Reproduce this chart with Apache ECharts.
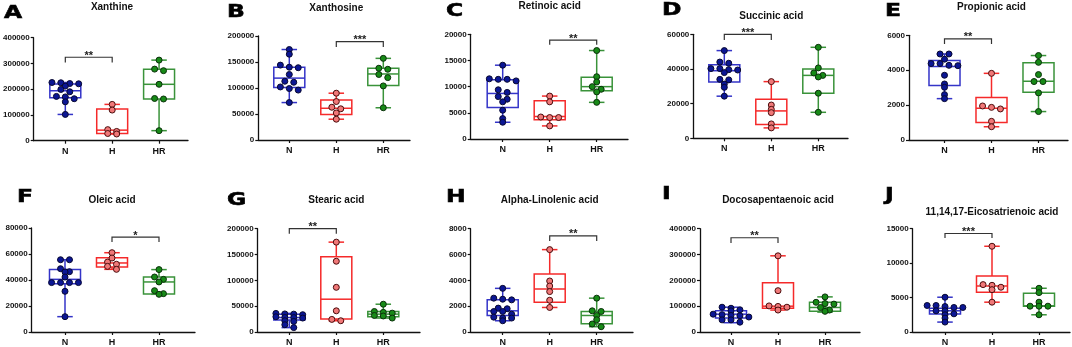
<!DOCTYPE html>
<html>
<head>
<meta charset="utf-8">
<script src="https://cdn.jsdelivr.net/npm/echarts@6/dist/echarts.min.js"></script>
<style>
	html, body { margin: 0; padding: 0; background: #fff; }
	#main { width: 1072px; height: 347px; }
</style>
</head>
<body>
<div id="main"></div>
<script>
var groups = ['N', 'H', 'HR'];
var letters = ['A', 'B', 'C', 'D', 'E', 'F', 'G', 'H', 'I', 'J'];
var titles = ['Xanthine', 'Xanthosine', 'Retinoic acid', 'Succinic acid', 'Propionic acid',
	'Oleic acid', 'Stearic acid', 'Alpha-Linolenic acid', 'Docosapentaenoic acid', '11,14,17-Eicosatrienoic acid'];
var yMax = [400000, 200000, 20000, 60000, 6000, 80000, 200000, 8000, 400000, 15000];
var yStep = [100000, 50000, 5000, 20000, 2000, 20000, 50000, 2000, 100000, 5000];

// box stats per group N / H / HR : [min, Q1, median, Q3, max]
var xanthineBox = [[102000, 167000, 194000, 220000, 226000], [26000, 28000, 41000, 123000, 141000], [39000, 162000, 219000, 277000, 313000]];
var xanthosineBox = [[72000, 101000, 119000, 140000, 174000], [40000, 49000, 61000, 77000, 90000], [62000, 105000, 127000, 138000, 157000]];
var retinoicBox = [[3200, 6000, 8700, 11300, 14100], [2500, 3700, 4300, 7300, 8200], [7000, 9200, 10000, 11800, 16900]];
var succinicBox = [[24300, 32500, 39000, 42500, 50600], [6000, 7900, 15800, 22500, 32700], [15000, 26000, 36300, 40000, 52500]];
var propionicBox = [[2370, 3120, 4210, 4550, 4930], [760, 1000, 1820, 2430, 3820], [1630, 2730, 3370, 4420, 4840]];
var oleicBox = [[11800, 37200, 40500, 48000, 55600], [48200, 50000, 53100, 57200, 61000], [29000, 29200, 38500, 42300, 48000]];
var stearicBox = [[8500, 23000, 28000, 34600, 36000], [21800, 25000, 63500, 145500, 174000], [27000, 29500, 34600, 39700, 53800]];
var linolenicBox = [[870, 1280, 1640, 2490, 3380], [1900, 2310, 3330, 4490, 6380], [410, 640, 1280, 1590, 2620]];
var docosaBox = [[36000, 54000, 69000, 82000, 96000], [85000, 92000, 100000, 191000, 295000], [77000, 80000, 95000, 115000, 136000]];
var eicosaBox = [[1440, 2600, 3080, 3460, 5050], [4330, 5770, 6680, 8130, 12450], [2500, 3750, 3800, 5620, 6350]];

// individual samples per group N / H / HR
var xanthinePts = [
	[226000, 225000, 222000, 221000, 212000, 199000, 190000, 172000, 170000, 163000, 151000, 102000],
	[141000, 119000, 43000, 36000, 28000, 26000],
	[313000, 278000, 272000, 219000, 164000, 162000, 39000]];
var xanthosinePts = [
	[174000, 165000, 144000, 140000, 139000, 126000, 113000, 111000, 102000, 99000, 96000, 72000],
	[90000, 74000, 63000, 60000, 52000, 40000],
	[157000, 138000, 136000, 126000, 120000, 104000, 62000]];
var retinoicPts = [
	[14100, 11500, 11400, 11400, 11100, 9400, 8900, 8100, 7600, 7100, 5500, 3900, 3200],
	[8200, 7100, 4200, 4100, 4100, 2500],
	[16900, 11900, 10900, 10000, 9500, 9000, 7000]];
var succinicPts = [
	[50600, 44000, 43300, 40200, 40200, 39600, 39400, 37900, 34000, 33700, 31300, 29400, 24300],
	[32700, 19200, 16700, 14800, 8300, 6000],
	[52500, 40600, 37700, 36300, 35400, 26000, 15000]];
var propionicPts = [
	[4930, 4930, 4630, 4380, 4380, 4280, 4260, 3710, 3210, 3020, 2600, 2370],
	[3820, 1950, 1870, 1780, 1070, 760],
	[4840, 4450, 3750, 3350, 3350, 2700, 1630]];
var oleicPts = [
	[55600, 55600, 48700, 46400, 46200, 42300, 38000, 38000, 38000, 38000, 31300, 11800],
	[61000, 56900, 53800, 52100, 50500, 48200],
	[48000, 42300, 40500, 38500, 31800, 29500, 29000]];
var stearicPts = [
	[36000, 35000, 34600, 33500, 29500, 28200, 28000, 27000, 21800, 20500, 14100, 8500],
	[174000, 137000, 86500, 41000, 24400, 21800],
	[53800, 39700, 38000, 36500, 32000, 31000, 27000]];
var linolenicPts = [
	[3380, 2620, 2540, 2490, 1850, 1800, 1590, 1590, 1380, 1150, 1080, 1080, 870],
	[6380, 3950, 3560, 3130, 2460, 1900],
	[2620, 1640, 1590, 1280, 950, 620, 410]];
var docosaPts = [
	[96000, 92000, 86000, 82000, 69000, 67000, 64000, 63000, 58000, 47000, 47000, 38000],
	[295000, 160000, 101000, 99000, 96000, 85000],
	[136000, 115000, 110000, 108000, 95000, 85000, 80000]];
var eicosaPts = [
	[5050, 3850, 3850, 3700, 3560, 3560, 3080, 3080, 2640, 2500, 2020, 1440],
	[12450, 6880, 6780, 6500, 6150, 4330],
	[6350, 5720, 4330, 3750, 3750, 3750, 2500]];

// significance brackets: compared groups, bar level, leg end, stars
var sigPairs = [[1, 2], [2, 3], [2, 3], [1, 2], [1, 2], [2, 3], [1, 2], [2, 3], [1, 2], [1, 2]];
var sigTop = [324000, 189000, 18900, 60000, 5790, 73000, 200000, 7440, 365000, 14300];
var sigLeg = [304000, 179000, 18000, 56700, 5500, 69200, 190000, 7050, 345000, 13650];
var sigText = ['**', '***', '**', '***', '**', '*', '**', '**', '**', '***'];

var boxes = [xanthineBox, xanthosineBox, retinoicBox, succinicBox, propionicBox, oleicBox, stearicBox, linolenicBox, docosaBox, eicosaBox];
var points = [xanthinePts, xanthosinePts, retinoicPts, succinicPts, propionicPts, oleicPts, stearicPts, linolenicPts, docosaPts, eicosaPts];

// layout: [y axis x, N centre x, x axis end, top, bottom]
var frames = [
	[33.3, 65, 188, 37.7, 140.7],
	[258.3, 289.3, 410, 36, 140],
	[470.7, 502.7, 628, 34.3, 139],
	[693.3, 724.3, 848, 34.3, 138.3],
	[909, 944.5, 1068, 35.3, 140],
	[31.7, 65, 195, 228, 332],
	[257.7, 289.3, 420, 228.7, 332.7],
	[470.7, 502.7, 633, 228.7, 332.7],
	[700, 731, 860, 228.7, 332.7],
	[912.7, 945, 1070, 228.7, 332.7]
];
var titleY = [7.3, 8.3, 6.7, 16.7, 7.3, 200.3, 200.3, 200.3, 200.3, 212];
var letterPos = [[4, 13], [227, 12], [446, 11.7], [662, 10.8], [885, 11.7], [17, 197.5], [227, 200.5], [446, 197.5], [662, 194.5], [885, 195.5]];

var SPACING = 47;
var STEP = 0.19;
var BOX_W = 0.66;
var FONT = '"Liberation Sans", Arial, sans-serif';
var boxColors = ['#3434c8', '#f52a2a', '#3a933a'];
var dotColors = ['#0b1694', '#f07878', '#178a17'];
var dotBorders = ['#080830', '#4a0c0c', '#0a300a'];

// spread close values side by side like a column scatter
function swarm(values, centre, max, heightPx) {
	var sorted = values.slice().sort(function (a, b) { return b - a; });
	var tol = 3.2 * max / heightPx;
	var out = [];
	var i = 0;
	while (i < sorted.length) {
		var j = i;
		while (j < sorted.length && sorted[i] - sorted[j] <= tol) j++;
		var n = j - i;
		for (var k = 0; k < n; k++) {
			out.push([centre + (k - (n - 1) / 2) * STEP, sorted[i + k]]);
		}
		i = j;
	}
	return out;
}

function lineEl(x1, y1, x2, y2, color) {
	return {
		type: 'line',
		shape: {x1: x1, y1: y1, x2: x2, y2: y2},
		style: {stroke: color, lineWidth: 1.5}
	};
}

function renderBox(params, api) {
	var x = api.value(0);
	var color = boxColors[params.dataIndex];
	var lo = api.coord([x, api.value(1)]);
	var q1 = api.coord([x, api.value(2)]);
	var med = api.coord([x, api.value(3)]);
	var q3 = api.coord([x, api.value(4)]);
	var hi = api.coord([x, api.value(5)]);
	var left = api.coord([x - BOX_W / 2, 0])[0];
	var right = api.coord([x + BOX_W / 2, 0])[0];
	var cx = q1[0];
	var cap = (right - left) / 4;
	return {
		type: 'group',
		children: [
			{type: 'rect', shape: {x: left, y: q3[1], width: right - left, height: q1[1] - q3[1]},
				style: {stroke: color, lineWidth: 1.5, fill: 'none'}},
			lineEl(left, med[1], right, med[1], color),
			lineEl(cx, q3[1], cx, hi[1], color),
			lineEl(cx, q1[1], cx, lo[1], color),
			lineEl(cx - cap, hi[1], cx + cap, hi[1], color),
			lineEl(cx - cap, lo[1], cx + cap, lo[1], color)
		]
	};
}

function bracketRenderer(label) {
	return function (params, api) {
		var a = api.coord([api.value(0), api.value(2)]);
		var b = api.coord([api.value(1), api.value(2)]);
		var la = api.coord([api.value(0), api.value(3)]);
		var lb = api.coord([api.value(1), api.value(3)]);
		return {
			type: 'group',
			children: [
				{type: 'polyline', shape: {points: [la, a, b, lb]},
					style: {stroke: '#333', lineWidth: 1.2, fill: 'none'}},
				{type: 'text', x: (a[0] + b[0]) / 2, y: a[1] - 1.5,
					style: {text: label, font: 'bold 11px ' + FONT, fill: '#222',
						align: 'center', verticalAlign: 'middle', textAlign: 'center', textVerticalAlign: 'middle'}}
			]
		};
	};
}

var option = {animation: false, grid: [], xAxis: [], yAxis: [], series: [], graphic: []};

for (var p = 0; p < frames.length; p++) {
	var f = frames[p];
	var xMin = 1 - (f[1] - f[0]) / SPACING;
	var xMax = xMin + (f[2] - f[0]) / SPACING;
	option.grid.push({left: f[0], top: f[3], width: f[2] - f[0], height: f[4] - f[3]});
	option.xAxis.push({
		gridIndex: p, type: 'value', min: xMin, max: xMax,
		splitLine: {show: false},
		axisLine: {onZero: false, lineStyle: {color: '#111', width: 1.3}},
		axisTick: {customValues: [1, 2, 3], length: 3, lineStyle: {color: '#111', width: 1.2}},
		axisLabel: {customValues: [1, 2, 3], margin: 6, color: '#111', fontSize: 9, fontWeight: 'bold', fontFamily: FONT,
			formatter: function (v) { return groups[Math.round(v) - 1]; }}
	});
	option.yAxis.push({
		gridIndex: p, type: 'value', min: 0, max: yMax[p], interval: yStep[p],
		splitLine: {show: false},
		axisLine: {show: true, onZero: false, lineStyle: {color: '#111', width: 1.3}},
		axisTick: {show: true, length: 3, lineStyle: {color: '#111', width: 1.2}},
		axisLabel: {margin: 4, color: '#111', fontSize: 8, fontWeight: 'bold', fontFamily: FONT,
			formatter: function (v) { return String(v); }}
	});

	option.series.push({
		type: 'custom', xAxisIndex: p, yAxisIndex: p, silent: true, z: 2,
		renderItem: renderBox,
		encode: {x: 0, y: [1, 2, 3, 4, 5]},
		data: boxes[p].map(function (b, i) { return [i + 1].concat(b); })
	});
	for (var g = 0; g < 3; g++) {
		option.series.push({
			type: 'scatter', xAxisIndex: p, yAxisIndex: p, silent: true, z: 3,
			symbolSize: 6,
			itemStyle: {color: dotColors[g], borderColor: dotBorders[g], borderWidth: 1, opacity: 1},
			data: swarm(points[p][g], g + 1, yMax[p], f[4] - f[3])
		});
	}
	option.series.push({
		type: 'custom', xAxisIndex: p, yAxisIndex: p, silent: true, z: 2,
		renderItem: bracketRenderer(sigText[p]),
		encode: {x: [0, 1], y: [2, 3]},
		data: [[sigPairs[p][0], sigPairs[p][1], sigTop[p], sigLeg[p]]]
	});

	option.graphic.push({
		type: 'text', x: f[1] + SPACING, y: titleY[p],
		style: {text: titles[p], font: 'bold 10px ' + FONT, fill: '#111',
			align: 'center', verticalAlign: 'middle', textAlign: 'center', textVerticalAlign: 'middle'}
	});
	option.graphic.push({
		type: 'text', x: letterPos[p][0], y: letterPos[p][1], scaleX: 1.3,
		style: {text: letters[p], font: 'bold 18px "DejaVu Sans", sans-serif', fill: '#000',
			stroke: '#000', lineWidth: 0.6,
			align: 'left', verticalAlign: 'middle', textAlign: 'left', textVerticalAlign: 'middle'}
	});
}

var chart = echarts.init(document.getElementById('main'));
chart.setOption(option);
</script>
</body>
</html>
